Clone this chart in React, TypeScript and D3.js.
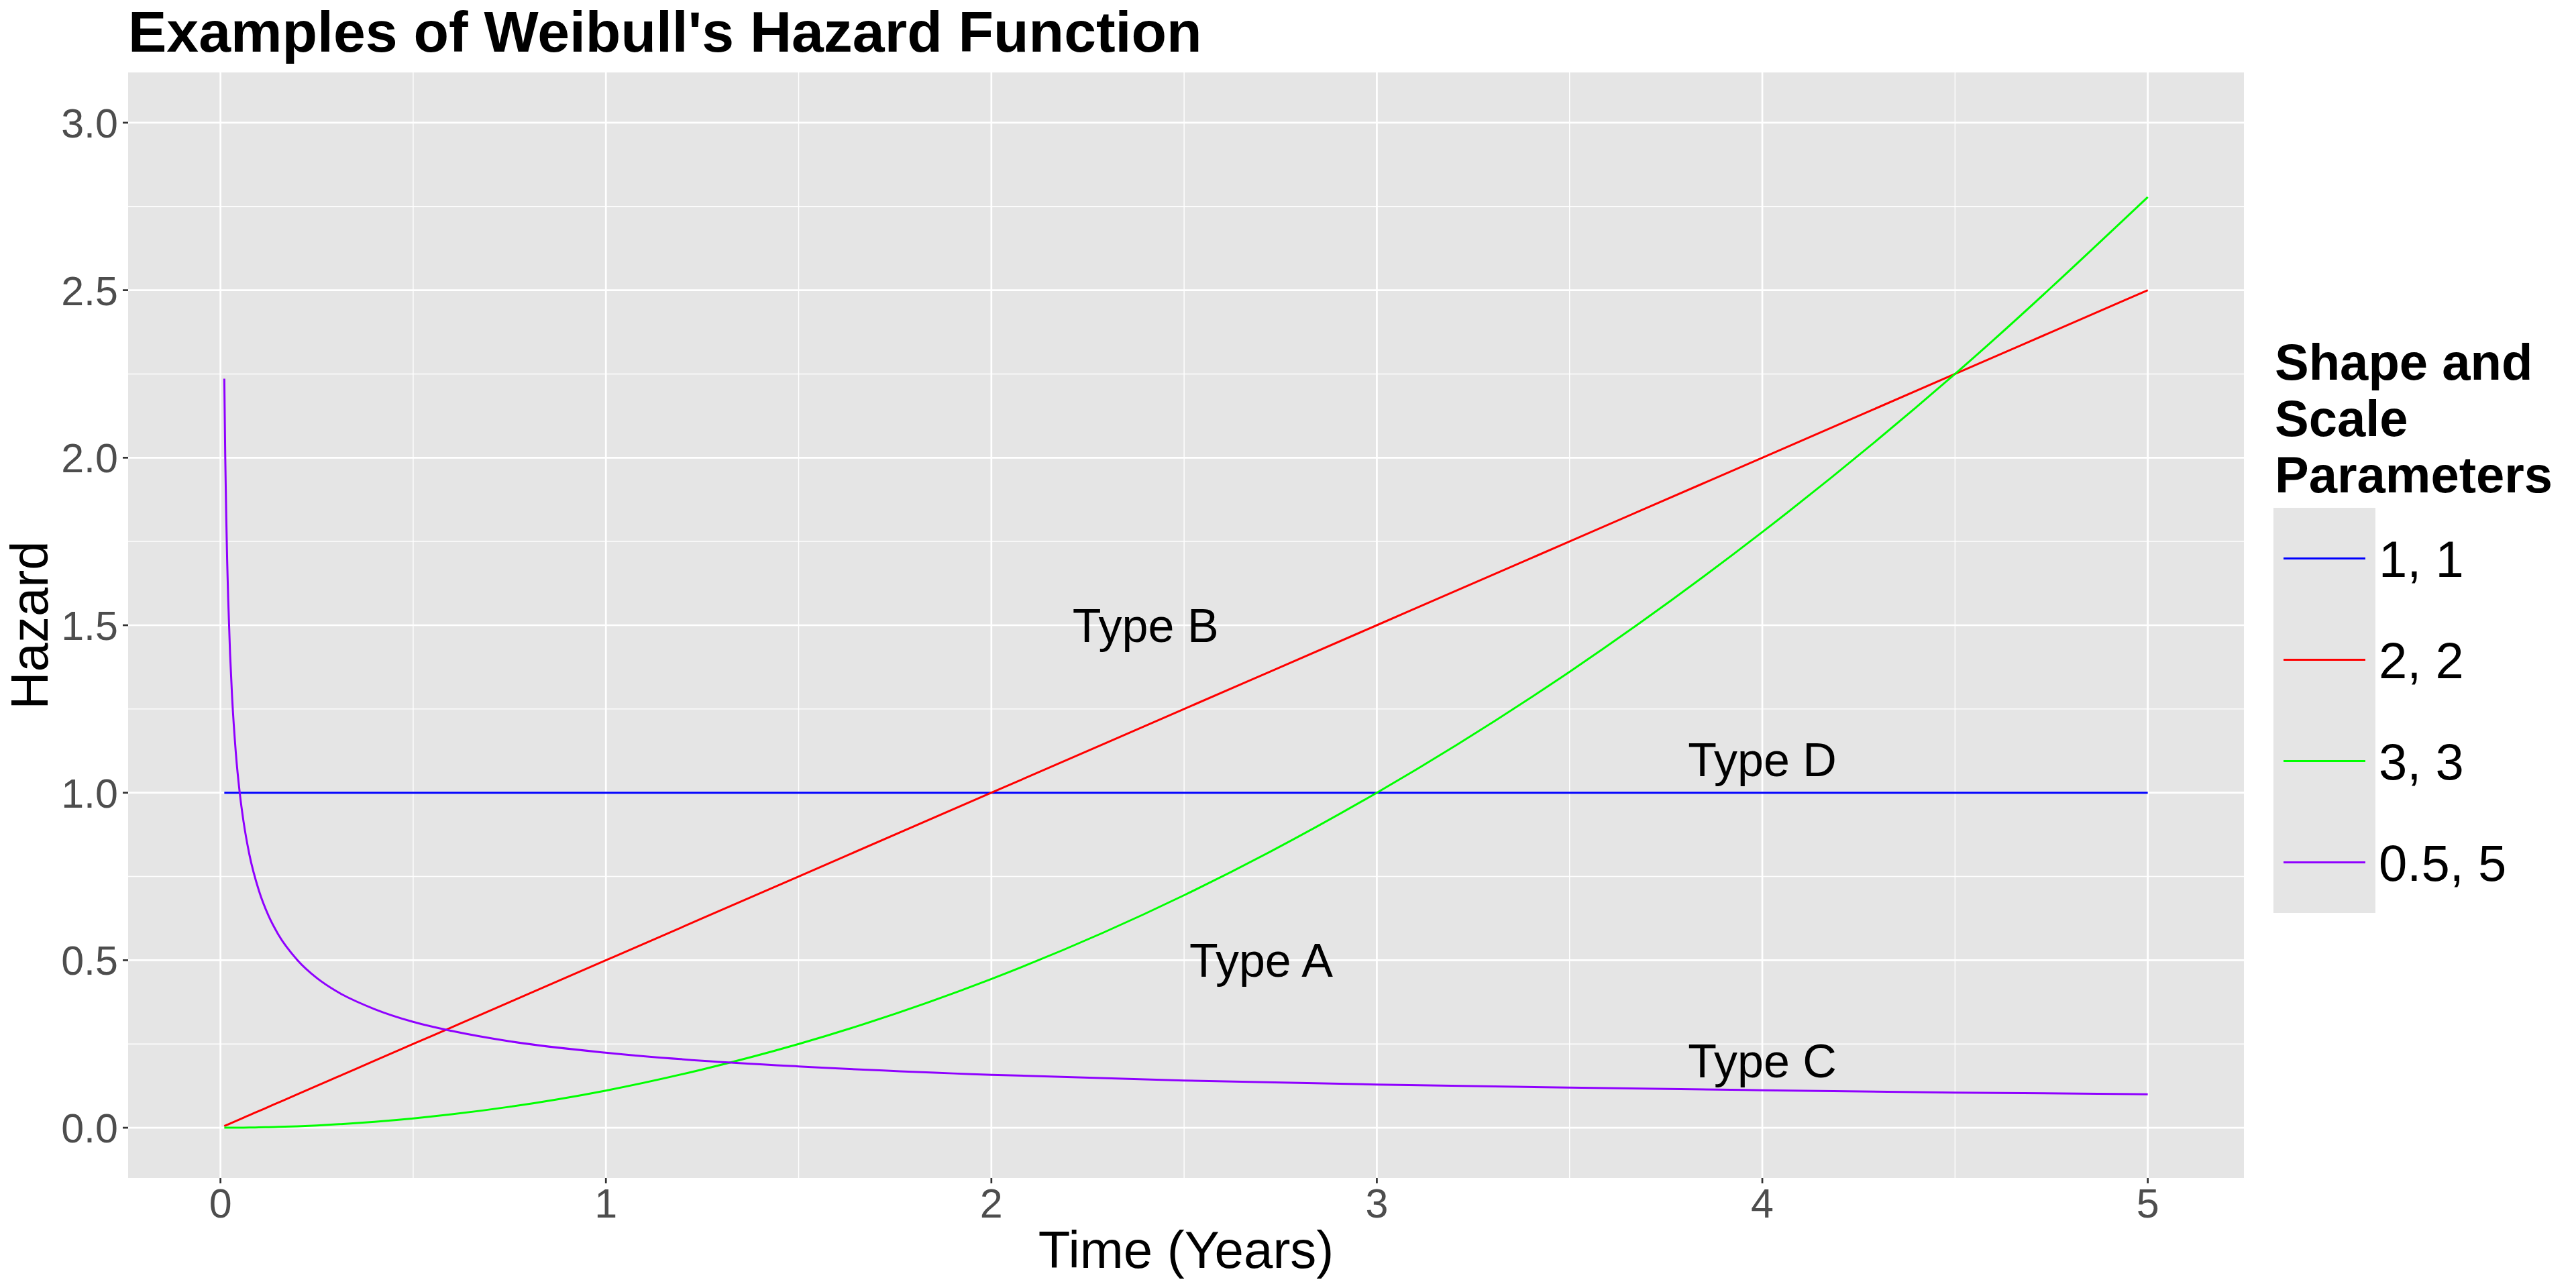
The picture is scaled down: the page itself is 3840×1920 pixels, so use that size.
import * as d3 from "d3"

// time points (years)
const times = [
  0.01, 0.0125, 0.015, 0.0175, 0.02, 0.025, 0.03, 0.04, 0.05, 0.06, 0.075, 0.1,
  0.125, 0.15, 0.2, 0.25, 0.3, 0.4, 0.5, 0.6, 0.75, 1, 1.25, 1.5, 2, 2.5, 3,
  3.5, 4, 4.5, 5,
]

// hazard values, one list per parameter pair
const hazard11 = [
  1, 1, 1, 1, 1, 1, 1, 1, 1, 1, 1, 1, 1, 1, 1, 1, 1, 1, 1, 1, 1, 1, 1, 1, 1,
  1, 1, 1, 1, 1, 1,
]
const hazard22 = [
  0.005, 0.00625, 0.0075, 0.00875, 0.01, 0.0125, 0.015, 0.02, 0.025, 0.03,
  0.0375, 0.05, 0.0625, 0.075, 0.1, 0.125, 0.15, 0.2, 0.25, 0.3, 0.375, 0.5,
  0.625, 0.75, 1, 1.25, 1.5, 1.75, 2, 2.25, 2.5,
]
const hazard33 = [
  0.0, 0.0, 0.0, 0.0, 0.0, 0.0001, 0.0001, 0.0002, 0.0003, 0.0004, 0.0006,
  0.0011, 0.0017, 0.0025, 0.0044, 0.0069, 0.01, 0.0178, 0.0278, 0.04, 0.0625,
  0.111, 0.174, 0.25, 0.444, 0.694, 1.0, 1.361, 1.778, 2.25, 2.778,
]
const hazard055 = [
  2.236, 2.0, 1.826, 1.69, 1.581, 1.414, 1.291, 1.118, 1.0, 0.913, 0.816,
  0.707, 0.632, 0.577, 0.5, 0.447, 0.408, 0.354, 0.316, 0.289, 0.258, 0.224,
  0.2, 0.183, 0.158, 0.141, 0.129, 0.12, 0.112, 0.105, 0.1,
]

const seriesNames = ["1, 1", "2, 2", "3, 3", "0.5, 5"]
const seriesValues = [hazard11, hazard22, hazard33, hazard055]
const seriesColors = ["#0000FF", "#FF0000", "#00FF00", "#8F00FF"]

const xTicks = [0, 1, 2, 3, 4, 5]
const xMinor = [0.5, 1.5, 2.5, 3.5, 4.5]
const yTicks = [0, 0.5, 1, 1.5, 2, 2.5, 3]
const yMinor = [0.25, 0.75, 1.25, 1.75, 2.25, 2.75]

const annotations = [
  { label: "Type A", t: 2.7, h: 0.5 },
  { label: "Type B", t: 2.4, h: 1.5 },
  { label: "Type C", t: 4, h: 0.2 },
  { label: "Type D", t: 4, h: 1.1 },
]

const W = 3840
const H = 1920
const panel = { left: 191, right: 3345, top: 108, bottom: 1756 }
const font = "'Liberation Sans', Arial, Helvetica, sans-serif"

export default function App() {
  const xPad = (5 - 0.01) * 0.05
  const x = d3
    .scaleLinear()
    .domain([0.01 - xPad, 5 + xPad])
    .range([panel.left, panel.right])
  const y = d3
    .scaleLinear()
    .domain([-0.15, 3.15])
    .range([panel.bottom, panel.top])

  const line = d3
    .line<[number, number]>()
    .x((d) => x(d[0]))
    .y((d) => y(d[1]))
    .curve(d3.curveMonotoneX)

  const lx = 3389
  const keyTop = 757
  const keyH = 151

  return (
    <svg
      width={W}
      height={H}
      viewBox={`0 0 ${W} ${H}`}
      style={{ position: "absolute", left: 0, top: 0, background: "#fff" }}
      fontFamily={font}
    >
      <rect width={W} height={H} fill="#fff" />
      <rect
        x={panel.left}
        y={panel.top}
        width={panel.right - panel.left}
        height={panel.bottom - panel.top}
        fill="#E5E5E5"
      />
      {yMinor.map((v) => (
        <line key={"ym" + v} x1={panel.left} x2={panel.right} y1={y(v)} y2={y(v)} stroke="#fff" strokeWidth={1.4} />
      ))}
      {xMinor.map((v) => (
        <line key={"xm" + v} x1={x(v)} x2={x(v)} y1={panel.top} y2={panel.bottom} stroke="#fff" strokeWidth={1.4} />
      ))}
      {yTicks.map((v) => (
        <line key={"yg" + v} x1={panel.left} x2={panel.right} y1={y(v)} y2={y(v)} stroke="#fff" strokeWidth={2.7} />
      ))}
      {xTicks.map((v) => (
        <line key={"xg" + v} x1={x(v)} x2={x(v)} y1={panel.top} y2={panel.bottom} stroke="#fff" strokeWidth={2.7} />
      ))}

      {seriesValues.map((vals, i) => (
        <path
          key={seriesNames[i]}
          d={line(times.map((t, j) => [t, vals[j]] as [number, number])) || ""}
          fill="none"
          stroke={seriesColors[i]}
          strokeWidth={3}
        />
      ))}

      {annotations.map((a) => (
        <text key={a.label} x={x(a.t)} y={y(a.h) + 25} fontSize={70} textAnchor="middle" fill="#000">
          {a.label}
        </text>
      ))}

      {/* axes */}
      {xTicks.map((v) => (
        <g key={"xt" + v}>
          <line x1={x(v)} x2={x(v)} y1={panel.bottom} y2={panel.bottom + 8} stroke="#333" strokeWidth={2.7} />
          <text x={x(v)} y={1815} fontSize={61} textAnchor="middle" fill="#4D4D4D">
            {v}
          </text>
        </g>
      ))}
      {yTicks.map((v) => (
        <g key={"yt" + v}>
          <line x1={panel.left - 8} x2={panel.left} y1={y(v)} y2={y(v)} stroke="#333" strokeWidth={2.7} />
          <text x={176} y={y(v) + 22} fontSize={61} textAnchor="end" fill="#4D4D4D">
            {d3.format(".1f")(v)}
          </text>
        </g>
      ))}

      <text x={(panel.left + panel.right) / 2} y={1890} fontSize={78} textAnchor="middle" fill="#000">
        Time (Years)
      </text>
      <text
        transform={`translate(71, ${(panel.top + panel.bottom) / 2}) rotate(-90)`}
        fontSize={78}
        textAnchor="middle"
        fill="#000"
      >
        Hazard
      </text>

      <text x={panel.left} y={77} fontSize={86} fontWeight="bold" fill="#000">
        Examples of Weibull's Hazard Function
      </text>

      {/* legend */}
      <g fontWeight="bold" fontSize={76} fill="#000">
        <text x={lx + 2} y={566}>Shape and</text>
        <text x={lx + 2} y={650}>Scale</text>
        <text x={lx + 2} y={734}>Parameters</text>
      </g>
      {seriesNames.map((name, i) => {
        const cy = keyTop + keyH * i + keyH / 2
        return (
          <g key={"lg" + name}>
            <rect x={lx} y={keyTop + keyH * i} width={152} height={keyH} fill="#E5E5E5" />
            <line x1={lx + 15} x2={lx + 137} y1={cy} y2={cy} stroke={seriesColors[i]} strokeWidth={3} />
            <text x={lx + 157} y={cy + 27} fontSize={76} fill="#000">
              {name}
            </text>
          </g>
        )
      })}
    </svg>
  )
}
